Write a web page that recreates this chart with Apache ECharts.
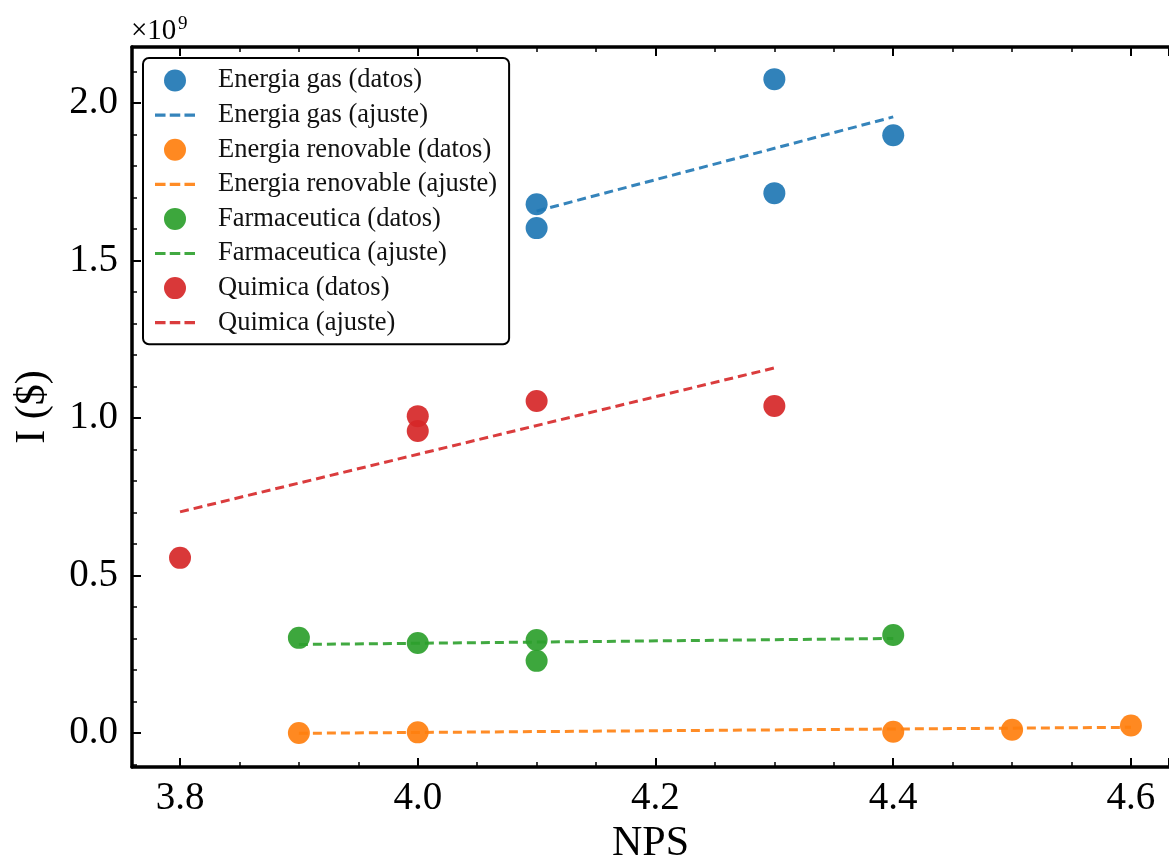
<!DOCTYPE html>
<html>
<head>
<meta charset="utf-8">
<script src="https://cdn.jsdelivr.net/npm/echarts@6/dist/echarts.min.js"></script>
<style>
html,body{margin:0;padding:0;background:#fff;overflow:hidden;}
#chart{width:1169px;height:861px;}
</style>
</head>
<body>
<div id="chart"></div>
<script>
// ---- Data ----
const gasX = [4.1, 4.1, 4.3, 4.3, 4.4];
const gasY = [1.679e9, 1.603e9, 2.076e9, 1.714e9, 1.898e9];
const gasFitX = [4.1, 4.4];
const gasFitY = [1.657e9, 1.956e9];

const renX = [3.9, 4.0, 4.4, 4.5, 4.6];
const renY = [0.000e9, 0.002e9, 0.004e9, 0.010e9, 0.024e9];
const renFitX = [3.9, 4.6];
const renFitY = [-0.001e9, 0.018e9];

const farmX = [3.9, 4.0, 4.1, 4.1, 4.4];
const farmY = [0.302e9, 0.286e9, 0.295e9, 0.229e9, 0.311e9];
const farmFitX = [3.9, 4.4];
const farmFitY = [0.281e9, 0.300e9];

const quimX = [3.8, 4.0, 4.0, 4.1, 4.3];
const quimY = [0.556e9, 1.006e9, 0.959e9, 1.054e9, 1.038e9];
const quimFitX = [3.8, 4.3];
const quimFitY = [0.702e9, 1.159e9];

const groups = [
  {name: 'Energia gas', color: '#1f77b4', x: gasX, y: gasY, fx: gasFitX, fy: gasFitY},
  {name: 'Energia renovable', color: '#ff7f0e', x: renX, y: renY, fx: renFitX, fy: renFitY},
  {name: 'Farmaceutica', color: '#2ca02c', x: farmX, y: farmY, fx: farmFitX, fy: farmFitY},
  {name: 'Quimica', color: '#d62728', x: quimX, y: quimY, fx: quimFitX, fy: quimFitY}
];

const SERIF = '"Liberation Serif", "DejaVu Serif", serif';
const zip = (a, b) => a.map((v, i) => [v, b[i]]);
const DASH_ICON = 'path://M0,0h10v3h-10z M14,0h10v3h-10z M28,0h10v3h-10z';

const series = [];
const legendData = [];
groups.forEach(g => {
  const dName = g.name + ' (datos)';
  const fName = g.name + ' (ajuste)';
  series.push({
    name: dName,
    type: 'scatter',
    data: zip(g.x, g.y),
    symbol: 'circle',
    symbolSize: 22,
    itemStyle: {color: g.color, opacity: 0.92},
    emphasis: {disabled: true}
  });
  series.push({
    name: fName,
    type: 'line',
    data: zip(g.fx, g.fy),
    symbol: 'none',
    showSymbol: false,
    lineStyle: {color: g.color, width: 3, type: [9, 5], opacity: 0.9},
    itemStyle: {color: g.color},
    emphasis: {disabled: true}
  });
  legendData.push({name: dName, icon: 'circle'});
  legendData.push({name: fName, icon: DASH_ICON, itemStyle: {color: g.color, opacity: 0.9}});
});

const chart = echarts.init(document.getElementById('chart'), null, {renderer: 'canvas'});

const axisLineStyle = {color: '#000', width: 3.5};

chart.setOption({
  animation: false,
  backgroundColor: '#fff',
  grid: {left: 132, right: 0, top: 47, bottom: 94, containLabel: false, outerBoundsMode: 'none'},
  xAxis: [
    {
      type: 'value',
      position: 'bottom',
      min: 3.7596,
      max: 4.632,
      name: 'NPS',
      nameLocation: 'middle',
      nameGap: 54,
      nameTextStyle: {fontFamily: SERIF, fontSize: 42, color: '#000'},
      axisLine: {show: true, onZero: false, lineStyle: axisLineStyle},
      axisTick: {show: true, inside: true, length: 9, lineStyle: {color: '#000', width: 2}},
      minorTick: {show: true, splitNumber: 4, length: 5, lineStyle: {color: '#000', width: 1.5}},
      axisLabel: {
        fontFamily: SERIF, fontSize: 39, color: '#000', margin: 12,
        showMinLabel: false, showMaxLabel: false,
        formatter: v => v.toFixed(1)
      },
      splitLine: {show: false}
    },
    {
      type: 'value',
      position: 'top',
      min: 3.7596,
      max: 4.632,
      axisLine: {show: true, onZero: false, lineStyle: axisLineStyle},
      axisTick: {show: true, inside: true, length: 9, lineStyle: {color: '#000', width: 2}},
      minorTick: {show: true, splitNumber: 4, length: 5, lineStyle: {color: '#000', width: 1.5}},
      axisLabel: {show: false},
      splitLine: {show: false}
    }
  ],
  yAxis: {
    type: 'value',
    position: 'left',
    min: -0.108e9,
    max: 2.178e9,
    name: 'I ($)',
    nameLocation: 'middle',
    nameRotate: 90,
    nameGap: 78,
    nameTextStyle: {fontFamily: SERIF, fontSize: 42, color: '#000'},
    axisLine: {show: true, onZero: false, lineStyle: axisLineStyle},
    axisTick: {show: true, inside: true, length: 9, lineStyle: {color: '#000', width: 2}},
    minorTick: {show: true, splitNumber: 5, length: 5, lineStyle: {color: '#000', width: 1.5}},
    axisLabel: {
      fontFamily: SERIF, fontSize: 39, color: '#000', margin: 14,
      showMinLabel: false, showMaxLabel: false,
      formatter: v => (v / 1e9).toFixed(1)
    },
    splitLine: {show: false}
  },
  legend: {
    orient: 'vertical',
    left: 143,
    top: 58,
    padding: [9, 12, 8, 12],
    itemWidth: 40,
    itemHeight: 22,
    itemGap: 7.6,
    backgroundColor: '#fff',
    borderColor: '#000',
    borderWidth: 2,
    borderRadius: 6,
    selectedMode: false,
    textStyle: {fontFamily: SERIF, fontSize: 26.5, color: '#111', padding: [0, 0, 0, 18]},
    data: legendData
  },
  graphic: [
    {type: 'text', left: 131, top: 17, style: {text: '×10', font: '29px ' + SERIF, fill: '#000'}},
    {type: 'text', left: 178, top: 15, style: {text: '9', font: '19px ' + SERIF, fill: '#000'}}
  ],
  series: series
});
</script>
</body>
</html>
